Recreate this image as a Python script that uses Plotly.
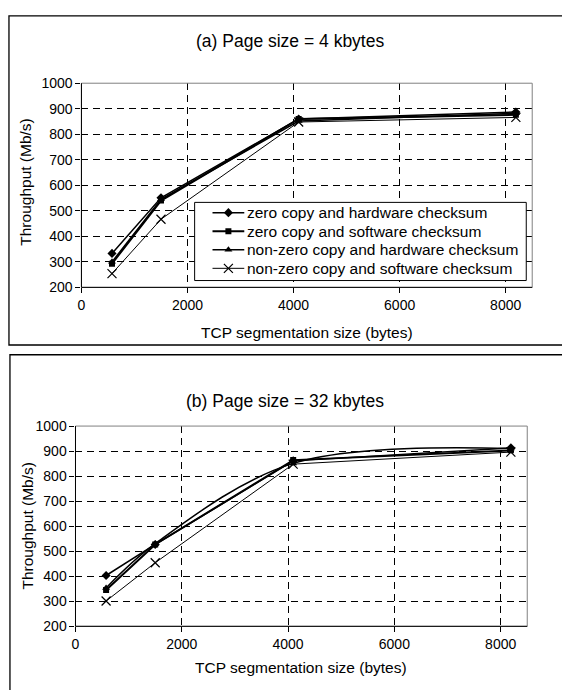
import plotly.graph_objects as go

W, H = 562, 690

# ---------------- data ----------------
seg_sizes = [576, 1500, 4096, 8192]
series_names = [
    "zero copy and hardware checksum",
    "zero copy and software checksum",
    "non-zero copy and hardware checksum",
    "non-zero copy and software checksum",
]
# panel (a) page size = 4 kbytes
a_zero_hw = [333, 551, 860, 887]
a_zero_sw = [293, 540, 860, 876]
a_nz_hw = [300, 545, 852, 882]
a_nz_sw = [254, 467, 848, 866]
# panel (b) page size = 32 kbytes
b_zero_hw = [403, 527, 861, 913]
b_zero_sw = [345, 527, 864, 903]
b_nz_hw = [353, 530, 851, 910]
b_nz_sw = [301, 454, 848, 896]

x_ticks = [0, 2000, 4000, 6000, 8000]
y_ticks = [200, 300, 400, 500, 600, 700, 800, 900, 1000]

FONT = "Liberation Sans, Arial, sans-serif"

styles = [
    dict(symbol="diamond", size=7, lw=1.5, mlw=0),
    dict(symbol="square", size=6, lw=2.0, mlw=0),
    dict(symbol="triangle-up", size=7, lw=1.5, mlw=0),
    dict(symbol="x-thin-open", size=9, lw=1.0, mlw=1.2),
]

def px_y(p):
    return 1 - p / H

def px_x(p):
    return p / W

# plot-area pixel boxes (left, right, top, bottom)
A_BOX = (78, 532, 77, 286)
B_BOX = (72, 527, 428, 633)

fig = go.Figure()

def add_panel(values, xa, ya, smooth_idx=None):
    for i, (name, ys) in enumerate(zip(series_names, values)):
        st = styles[i]
        shape = "spline" if (smooth_idx is not None and i == smooth_idx) else "linear"
        fig.add_trace(go.Scatter(
            x=seg_sizes, y=ys, name=name, mode="lines+markers",
            xaxis=xa, yaxis=ya, showlegend=False,
            line=dict(color="black", width=st["lw"], shape=shape, smoothing=1.0),
            marker=dict(symbol=st["symbol"], size=st["size"], color="black",
                        line=dict(color="black", width=st["mlw"])),
        ))

add_panel([a_zero_hw, a_zero_sw, a_nz_hw, a_nz_sw], "x", "y")
add_panel([b_zero_hw, b_zero_sw, b_nz_hw, b_nz_sw], "x2", "y2", smooth_idx=2)

# ---- legend drawn on a pixel-space overlay of panel (a) ----
LEG_L, LEG_R, LEG_T, LEG_B = 192, 526, 199, 279
LEG_ROW0, LEG_DY = 209.5, 19
LEG_LINE_X0, LEG_LINE_X1, LEG_TEXT_X = 210, 242, 245

fig.add_trace(go.Scatter(
    x=[LEG_L, LEG_R, LEG_R, LEG_L, LEG_L], y=[LEG_T, LEG_T, LEG_B, LEG_B, LEG_T],
    mode="lines", fill="toself", fillcolor="white",
    line=dict(color="black", width=1), xaxis="x3", yaxis="y3",
    showlegend=False, hoverinfo="skip"))
for i, name in enumerate(series_names):
    st = styles[i]
    ry = LEG_ROW0 + LEG_DY * i
    fig.add_trace(go.Scatter(
        x=[LEG_LINE_X0, (LEG_LINE_X0 + LEG_LINE_X1) / 2, LEG_LINE_X1], y=[ry, ry, ry],
        mode="lines", line=dict(color="black", width=st["lw"]),
        xaxis="x3", yaxis="y3", showlegend=False, hoverinfo="skip"))
    fig.add_trace(go.Scatter(
        x=[(LEG_LINE_X0 + LEG_LINE_X1) / 2], y=[ry], mode="markers",
        marker=dict(symbol=st["symbol"], size=st["size"], color="black",
                    line=dict(color="black", width=st["mlw"])),
        xaxis="x3", yaxis="y3", showlegend=False, hoverinfo="skip"))

axis_common = dict(
    showgrid=True, gridcolor="black", gridwidth=1, griddash="7px,5px",
    zeroline=False, showline=False, ticks="outside", ticklen=5,
    tickcolor="black", tickwidth=1,
    tickfont=dict(family=FONT, size=14, color="black"),
)

fig.update_layout(
    width=W, height=H, margin=dict(l=0, r=0, t=0, b=0),
    paper_bgcolor="white", plot_bgcolor="white",
    font=dict(family=FONT, color="black"),
    showlegend=False,
    xaxis=dict(domain=[px_x(A_BOX[0]), px_x(A_BOX[1])], range=[0, 8500], tickvals=x_ticks,
               anchor="y", **axis_common),
    yaxis=dict(domain=[px_y(A_BOX[3]), px_y(A_BOX[2])], range=[200, 1000], tickvals=y_ticks,
               anchor="x", **axis_common),
    xaxis2=dict(domain=[px_x(B_BOX[0]), px_x(B_BOX[1])], range=[0, 8500], tickvals=x_ticks,
                anchor="y2", **axis_common),
    yaxis2=dict(domain=[px_y(B_BOX[3]), px_y(B_BOX[2])], range=[200, 1000], tickvals=y_ticks,
                anchor="x2", **axis_common),
    xaxis3=dict(overlaying="x", range=[A_BOX[0], A_BOX[1]], visible=False,
                showgrid=False, zeroline=False, anchor="y3"),
    yaxis3=dict(overlaying="y", range=[A_BOX[3], A_BOX[2]], visible=False,
                showgrid=False, zeroline=False, anchor="x3"),
)

shapes = []
# outer boxes
shapes.append(dict(type="rect", xref="paper", yref="paper",
                   x0=px_x(5), x1=1.05, y0=px_y(345), y1=px_y(8),
                   line=dict(color="black", width=1.3), layer="below"))
shapes.append(dict(type="rect", xref="paper", yref="paper",
                   x0=px_x(6), x1=1.05, y0=-0.05, y1=px_y(355),
                   line=dict(color="black", width=1.3), layer="below"))
# plot frames (grey top/right, black left/bottom)
for xr, yr in (("x", "y"), ("x2", "y2")):
    shapes.append(dict(type="rect", xref=f"{xr} domain", yref=f"{yr} domain",
                       x0=0, x1=1, y0=0, y1=1,
                       line=dict(color="#808080", width=1), layer="above"))
    shapes.append(dict(type="line", xref=f"{xr} domain", yref=f"{yr} domain",
                       x0=0, x1=0, y0=0, y1=1,
                       line=dict(color="black", width=1), layer="above"))
    shapes.append(dict(type="line", xref=f"{xr} domain", yref=f"{yr} domain",
                       x0=0, x1=1, y0=0, y1=0,
                       line=dict(color="black", width=1), layer="above"))
fig.update_layout(shapes=shapes)

ann = []
def text(x, y, s, size, angle=0, xanchor="center"):
    ann.append(dict(x=px_x(x), y=px_y(y), xref="paper", yref="paper",
                    text=s, showarrow=False, textangle=angle,
                    xanchor=xanchor, yanchor="middle",
                    font=dict(family=FONT, size=size, color="black")))

text(288, 34, "(a) Page size = 4 kbytes", 17.5)
text(22, 178, "Throughput (Mb/s)", 15.5, -90)
text(305, 332, "TCP segmentation size (bytes)", 15.5)
text(283, 402, "(b) Page size = 32 kbytes", 17.5)
text(24, 530, "Throughput (Mb/s)", 15.5, -90)
text(299, 675, "TCP segmentation size (bytes)", 15.5)
for i, name in enumerate(series_names):
    ann.append(dict(x=LEG_TEXT_X, y=LEG_ROW0 + LEG_DY * i, xref="x3", yref="y3",
                    text=name, showarrow=False, xanchor="left", yanchor="middle",
                    xshift=-2,
                    font=dict(family=FONT, size=15.5, color="black")))
fig.update_layout(annotations=ann)

fig.write_html("out.html", config={"displayModeBar": False},
               post_script="document.body.style.margin='0px';document.body.style.overflow='hidden';")
